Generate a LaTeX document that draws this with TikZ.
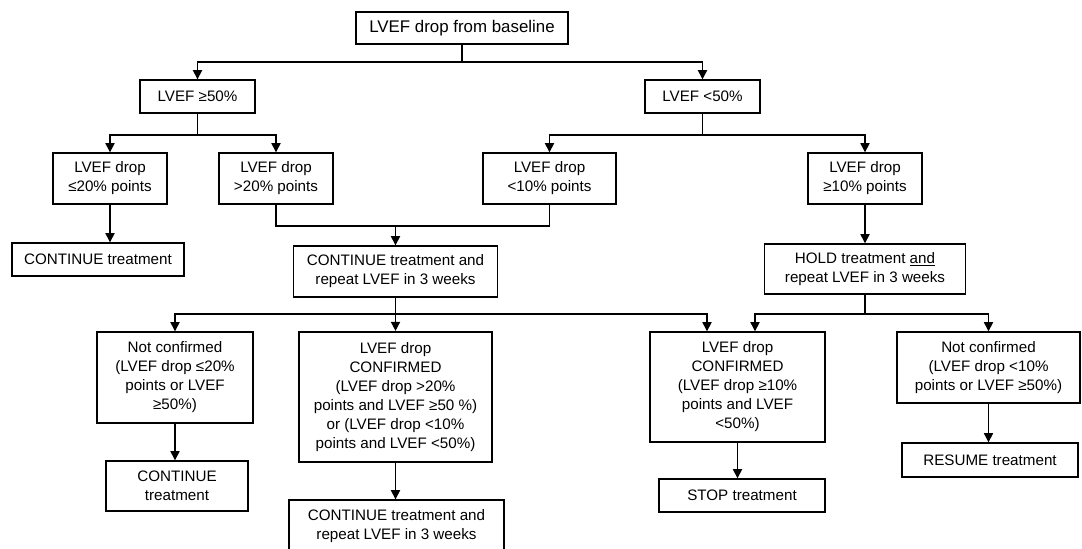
\documentclass[tikz,border=0pt]{standalone}
\usepackage{fontspec}
\setmainfont{Liberation Sans}
\usetikzlibrary{arrows.meta}

\tikzset{
	box/.style 2 args={draw, line width=1pt, align=center, inner sep=1pt,
		minimum width=#1*0.025cm, minimum height=#2*0.025cm,
		font=\fontsize{10.8}{13.5}\selectfont},
	wire/.style={line width=1pt},
	arr/.style={line width=1pt, -{Triangle[width=6.5pt,length=6.5pt]}}
}

\begin{document}
\begin{tikzpicture}
	\def \hor{ 0.025 };
	\def \ver{ -0.025 };
	\useasboundingbox (0,0) rectangle (1082*\hor,548*\ver);

	\node[box={212}{32}, font=\fontsize{12}{14}\selectfont] (0) at (462*\hor,28*\ver) {LVEF drop from baseline};
	\node[box={115}{33}] (1) at (197.5*\hor,96.5*\ver) {LVEF ≥50\%};
	\node[box={115}{33}] (2) at (702.5*\hor,96.5*\ver) {LVEF <50\%};
	\node[box={114}{51}] (3) at (110*\hor,178.5*\ver) {LVEF drop\\≤20\% points};
	\node[box={114}{51}] (4) at (276*\hor,178.5*\ver) {LVEF drop\\>20\% points};
	\node[box={133}{51}] (5) at (549.5*\hor,178.5*\ver) {LVEF drop\\<10\% points};
	\node[box={114}{51}] (6) at (865*\hor,178.5*\ver) {LVEF drop\\≥10\% points};
	\node[box={172}{33}] (7) at (98*\hor,259.5*\ver) {CONTINUE treatment};
	\node[box={204}{51}] (8) at (395.5*\hor,271.5*\ver) {CONTINUE treatment and\\repeat LVEF in 3 weeks};
	\node[box={201}{50}] (9) at (865*\hor,269*\ver) {HOLD treatment \underline{and}\\repeat LVEF in 3 weeks};
	\node[box={156}{91}] (10) at (175*\hor,377.5*\ver) {Not confirmed\\(LVEF drop ≤20\%\\points or LVEF\\≥50\%)};
	\node[box={193}{130}, line width=1.5pt] (11) at (395.5*\hor,397*\ver) {LVEF drop\\CONFIRMED\\(LVEF drop >20\%\\points and LVEF ≥50 \%)\\or (LVEF drop <10\%\\points and LVEF <50\%)};
	\node[box={175}{110}] (12) at (737.5*\hor,387*\ver) {LVEF drop\\CONFIRMED\\(LVEF drop ≥10\%\\points and LVEF\\<50\%)};
	\node[box={183}{71}] (13) at (988.5*\hor,367.5*\ver) {Not confirmed\\(LVEF drop <10\%\\points or LVEF ≥50\%)};
	\node[box={142}{50}] (14) at (177*\hor,486*\ver) {CONTINUE\\treatment};
	\node[box={215}{52}] (15) at (396.5*\hor,526*\ver) {CONTINUE treatment and\\repeat LVEF in 3 weeks};
	\node[box={166}{33}] (16) at (742*\hor,495.5*\ver) {STOP treatment};
	\node[box={176}{34}] (17) at (990*\hor,460*\ver) {RESUME treatment};

	% junctions
	\coordinate (j0) at (462*\hor,62*\ver);
	\coordinate (j1) at (197.5*\hor,135*\ver);
	\coordinate (j2) at (702.5*\hor,135*\ver);
	\coordinate (j3) at (395.5*\hor,226*\ver);
	\coordinate (j4) at (395.5*\hor,314*\ver);
	\coordinate (j5) at (865*\hor,314*\ver);
	\coordinate (a) at (707*\hor,0);
	\coordinate (b) at (755*\hor,0);

	\draw[wire] (0) -- (j0);
	\draw[arr] (j0) -| (1);
	\draw[arr] (j0) -| (2);
	\draw[wire] (1) -- (j1);
	\draw[arr] (j1) -| (3);
	\draw[arr] (j1) -| (4);
	\draw[wire] (2) -- (j2);
	\draw[arr] (j2) -| (5);
	\draw[arr] (j2) -| (6);
	\draw[arr] (3) -- (7.north -| 3);
	\draw[wire] (4) |- (j3);
	\draw[wire] (5) |- (j3);
	\draw[arr] (j3) -- (8);
	\draw[arr] (6) -- (9);
	\draw[wire] (8) -- (j4);
	\draw[arr] (j4) -| (10);
	\draw[arr] (j4) -- (11);
	\draw[arr] (j4) -| (12.north -| a);
	\draw[wire] (9) -- (j5);
	\draw[arr] (j5) -| (12.north -| b);
	\draw[arr] (j5) -| (13);
	\draw[arr] (10) -- (14.north -| 10);
	\draw[arr] (11) -- (15.north -| 11);
	\draw[arr] (12) -- (16.north -| 12);
	\draw[arr] (13) -- (17.north -| 13);
\end{tikzpicture}
\end{document}
